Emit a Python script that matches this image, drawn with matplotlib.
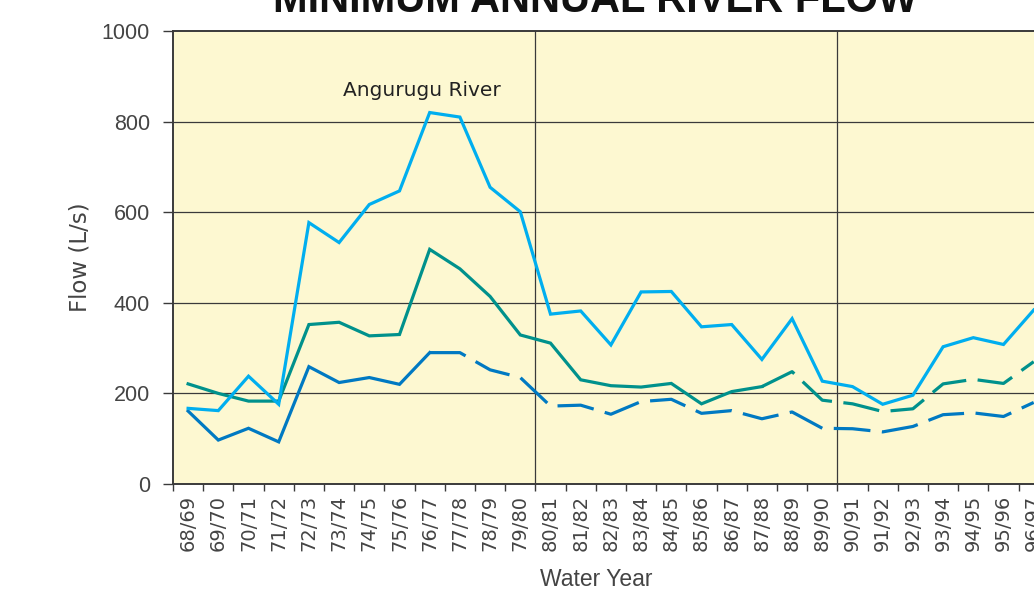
import matplotlib
matplotlib.use("Agg")
import matplotlib.pyplot as plt
from matplotlib.ticker import FixedLocator, NullFormatter

# ---- data ----
years = ["68/69", "69/70", "70/71", "71/72", "72/73", "73/74", "74/75", "75/76",
         "76/77", "77/78", "78/79", "79/80", "80/81", "81/82", "82/83", "83/84",
         "84/85", "85/86", "86/87", "87/88", "88/89", "89/90", "90/91", "91/92",
         "92/93", "93/94", "94/95", "95/96", "96/97"]

angurugu = [167, 162, 238, 176, 577, 533, 617, 647, 820, 810, 655, 601, 375,
            382, 307, 424, 425, 347, 352, 275, 365, 227, 215, 176, 196, 303,
            323, 308, 384]

teal_series = [221, 200, 183, 183, 352, 357, 327, 330, 518, 475, 414, 329, 311,
               230, 217, 214, 222, 177, 204, 215, 248, 185, 177, 160, 166, 221,
               231, 222, 270]

blue_series = [161, 97, 123, 93, 259, 224, 235, 220, 290, 290, 252, 235, 172,
               174, 154, 182, 187, 156, 162, 144, 159, 123, 122, 115, 127, 153,
               157, 149, 180]

teal_dash_from = 19   # 87/88 onward estimated
blue_dash_from = 8    # 76/77 onward estimated

y_ticks = [0, 200, 400, 600, 800, 1000]

# ---- figure ----
W, H = 1034, 593
fig = plt.figure(figsize=(W / 100, H / 100), dpi=100)
fig.patch.set_facecolor("white")

cat_px = 30.2
left_px, right_px, top_px, bottom_px = 173, 173 + cat_px * 32, 31, 484
ax = fig.add_axes([left_px / W, 1 - bottom_px / H,
                   (right_px - left_px) / W, (bottom_px - top_px) / H])
ax.set_facecolor("#fdf8d1")

x = [i + 0.5 for i in range(len(years))]

c_light = "#00aeef"
c_teal = "#00918c"
c_blue = "#0079c2"
lw = 2.3
dash = (0, (11.5, 3.6))

ax.plot(x, angurugu, color=c_light, lw=lw, solid_joinstyle="miter", zorder=4)

ax.plot(x[:teal_dash_from + 1], teal_series[:teal_dash_from + 1],
        color=c_teal, lw=lw, solid_joinstyle="miter", zorder=3)
ax.plot(x[teal_dash_from:], teal_series[teal_dash_from:],
        color=c_teal, lw=lw, linestyle=dash, dash_capstyle="butt", zorder=3)

ax.plot(x[:blue_dash_from + 1], blue_series[:blue_dash_from + 1],
        color=c_blue, lw=lw, solid_joinstyle="miter", zorder=3)
ax.plot(x[blue_dash_from:], blue_series[blue_dash_from:],
        color=c_blue, lw=lw, linestyle=dash, dash_capstyle="butt", zorder=3)

ax.set_xlim(0, 32)
ax.set_ylim(0, 1000)

# grid lines
for yv in y_ticks[1:-1]:
    ax.axhline(yv, color="#3a3a3a", lw=0.9, zorder=2)
for xv in (12, 22):
    ax.axvline(xv, color="#3a3a3a", lw=0.9, zorder=2)

# spines
for side in ("left", "top", "bottom", "right"):
    ax.spines[side].set_color("#3a3a3a")
    ax.spines[side].set_linewidth(1.4)

# y ticks
ax.set_yticks(y_ticks)
ax.set_yticklabels([str(v) for v in y_ticks], fontsize=15.5,
                   family="Liberation Sans", color="#444444")
ax.tick_params(axis="y", direction="out", length=7.5, width=1.0,
               color="#3a3a3a", pad=9)

# x ticks: marks at boundaries, labels at centers
ax.xaxis.set_major_locator(FixedLocator(list(range(0, 33))))
ax.xaxis.set_major_formatter(NullFormatter())
ax.tick_params(axis="x", which="major", direction="out", length=5,
               width=1.0, color="#3a3a3a")
ax.set_xticks(x, minor=True)
ax.set_xticklabels(years, minor=True, rotation=90, fontsize=14,
                   family="DejaVu Sans", color="#444444", va="top", ha="center")
ax.tick_params(axis="x", which="minor", length=0, pad=8)

# series label (placed in axes fraction coordinates)
ax.text((422 - left_px) / (right_px - left_px), (bottom_px - 90) / (bottom_px - top_px),
        "Angurugu River", transform=ax.transAxes, fontsize=14.5,
        family="DejaVu Sans", color="#222222", ha="center", va="center", zorder=5)

fig.text(80 / W, 1 - 257 / H, "Flow (L/s)", rotation=90, fontsize=16.5,
         family="DejaVu Sans", color="#444444", ha="center", va="center")
fig.text(596 / W, 1 - 580 / H, "Water Year", fontsize=16.5,
         family="Liberation Sans", color="#444444", ha="center", va="center")
fig.text(595 / W, 1 - 12 / H, "MINIMUM ANNUAL RIVER FLOW", fontsize=30,
         family="Liberation Sans", weight="bold", color="#111111",
         ha="center", va="baseline")

fig.savefig("out.png", dpi=100)
